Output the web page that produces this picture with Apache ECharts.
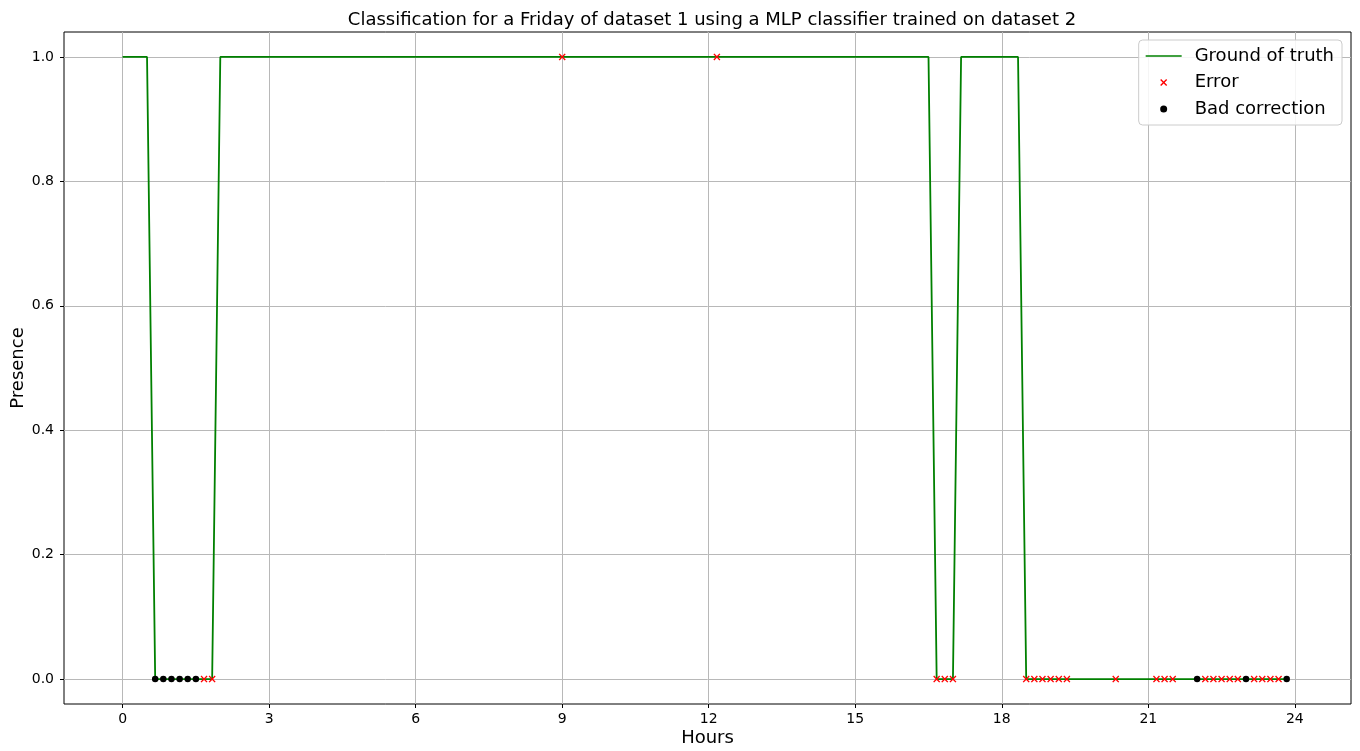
<!DOCTYPE html>
<html>
<head>
<meta charset="utf-8">
<script src="https://cdn.jsdelivr.net/npm/echarts@6/dist/echarts.min.js"></script>
<style>
html,body{margin:0;padding:0;background:#fff;}
#chart{width:1360px;height:751px;}
</style>
</head>
<body>
<div id="chart"></div>
<script>
// Ground of truth (breakpoints of the step signal, hours / presence)
const truthHours  = [0, 0.5, 0.667, 1.833, 2.0, 16.5, 16.667, 17.0, 17.167, 18.333, 18.5, 23.833];
const truthValues = [1, 1,   0,     0,     1,   1,    0,      0,    1,      1,      0,    0];

// Errors
const errorHours  = [1.667, 1.833, 9.0, 12.167, 16.667, 16.833, 17.0,
                     18.5, 18.667, 18.833, 19.0, 19.167, 19.333, 20.333,
                     21.167, 21.333, 21.5,
                     22.167, 22.333, 22.5, 22.667, 22.833,
                     23.167, 23.333, 23.5, 23.667];
const errorValues = [0, 0, 1, 1, 0, 0, 0,
                     0, 0, 0, 0, 0, 0, 0,
                     0, 0, 0,
                     0, 0, 0, 0, 0,
                     0, 0, 0, 0];

// Bad corrections
const badHours  = [0.667, 0.833, 1.0, 1.167, 1.333, 1.5, 22.0, 23.0, 23.833];
const badValues = [0, 0, 0, 0, 0, 0, 0, 0, 0];

// Tick labels
const xTicks = [0, 3, 6, 9, 12, 15, 18, 21, 24];
const yTicks = [0.0, 0.2, 0.4, 0.6, 0.8, 1.0];

const FONT = 'DejaVu Sans';
const pair = (xs, ys) => xs.map((x, i) => [x, ys[i]]);
const crossPath = 'path://M0,1.4 L1.4,0 L5,3.6 L8.6,0 L10,1.4 L6.4,5 L10,8.6 L8.6,10 L5,6.4 L1.4,10 L0,8.6 L3.6,5 Z';

const chart = echarts.init(document.getElementById('chart'), null, {renderer: 'canvas'});
chart.setOption({
  animation: false,
  backgroundColor: '#fff',
  title: {
    text: 'Classification for a Friday of dataset 1 using a MLP classifier trained on dataset 2',
    left: 707, textAlign: 'center', top: 6,
    textStyle: {fontFamily: FONT, fontSize: 18, fontWeight: 'normal', color: '#000'}
  },
  grid: {
    left: 64, right: 9, top: 32, bottom: 47,
    containLabel: false, outerBoundsMode: 'none',
    show: true, borderColor: '#000', borderWidth: 1, backgroundColor: 'transparent'
  },
  legend: {
    orient: 'vertical', right: 18, top: 40,
    backgroundColor: 'rgba(255,255,255,0.85)',
    borderColor: '#cccccc', borderWidth: 1, borderRadius: 4,
    padding: [7, 8, 7, 7],
    itemWidth: 36, itemHeight: 7, itemGap: 8.5,
    textStyle: {fontFamily: FONT, fontSize: 18, color: '#000', padding: [0, 0, 0, 8]},
    data: [
      {name: 'Ground of truth', icon: 'path://M0,0 L36,0 L36,1.5 L0,1.5 Z', itemStyle: {color: '#008000'}},
      {name: 'Error'},
      {name: 'Bad correction'}
    ]
  },
  xAxis: {
    type: 'value', min: -1.2, max: 25.15,
    name: 'Hours', nameLocation: 'middle', nameGap: 25, nameMoveOverlap: false,
    nameTextStyle: {fontFamily: FONT, fontSize: 18, color: '#000'},
    axisLine: {show: false, onZero: false},
    axisTick: {show: true, length: 4, customValues: xTicks, lineStyle: {color: '#000'}},
    axisLabel: {customValues: xTicks, fontFamily: FONT, fontSize: 14, color: '#000', margin: 8},
    splitLine: {show: true, lineStyle: {color: '#b8b8b8', width: 1}}
  },
  yAxis: {
    type: 'value', min: -0.04, max: 1.04,
    name: 'Presence', nameLocation: 'middle', nameGap: 37, nameMoveOverlap: false,
    nameTextStyle: {fontFamily: FONT, fontSize: 18, color: '#000'},
    axisLine: {show: false, onZero: false},
    axisTick: {show: true, length: 4, customValues: yTicks, lineStyle: {color: '#000'}},
    axisLabel: {customValues: yTicks, fontFamily: FONT, fontSize: 14, color: '#000', margin: 10,
                formatter: v => v.toFixed(1)},
    splitLine: {show: true, lineStyle: {color: '#b8b8b8', width: 1}}
  },
  series: [
    {
      name: 'Ground of truth', type: 'line', data: pair(truthHours, truthValues),
      symbol: 'none', showSymbol: false,
      lineStyle: {color: '#008000', width: 1.8}, itemStyle: {color: '#008000'}, z: 2
    },
    {
      name: 'Error', type: 'scatter', data: pair(errorHours, errorValues),
      symbol: crossPath, symbolSize: 7,
      itemStyle: {color: '#ff0000', opacity: 1}, z: 3
    },
    {
      name: 'Bad correction', type: 'scatter', data: pair(badHours, badValues),
      symbol: 'circle', symbolSize: 6.5,
      itemStyle: {color: '#000000', opacity: 1}, z: 4
    }
  ]
});
</script>
</body>
</html>
